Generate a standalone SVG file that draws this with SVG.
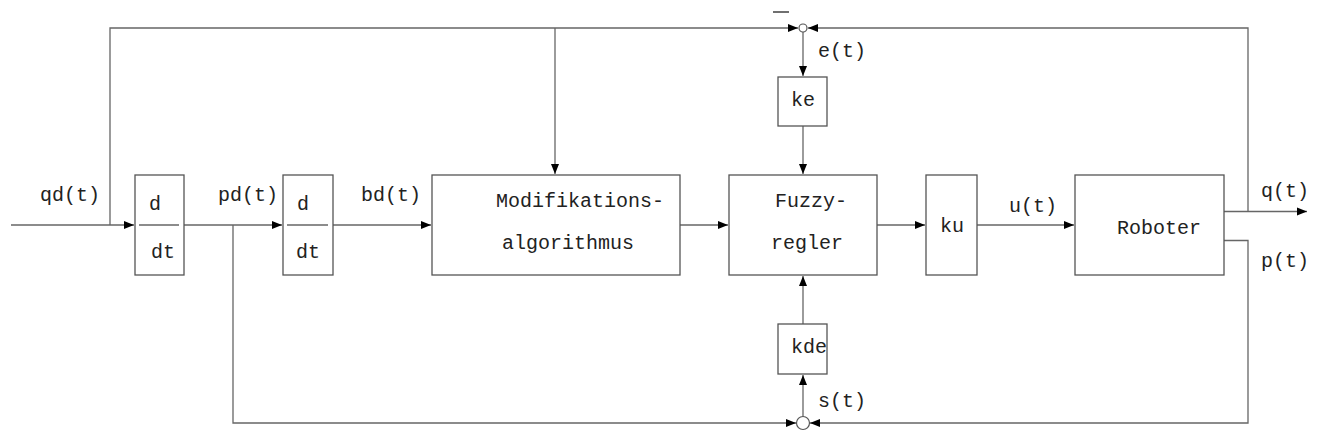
<svg xmlns="http://www.w3.org/2000/svg" width="1319" height="441" viewBox="0 0 1319 441">
<style>
.box{fill:#fff;stroke:#555;stroke-width:1.3}
.ln{fill:none;stroke:#666;stroke-width:1.3}
.t{font-family:"Liberation Mono","Courier New",monospace;font-size:20px;fill:#222}
.jn{fill:#fff;stroke:#555;stroke-width:1.2}
</style>
<defs>
<marker id="ah" markerWidth="10" markerHeight="10" refX="10" refY="5" orient="auto" markerUnits="userSpaceOnUse">
<path d="M0,1 L10,5 L0,9 Z" fill="#000"/>
</marker>
</defs>
<rect width="1319" height="441" fill="#fff"/>
<g id="connectors">
<path class="ln" d="M11,225 H134" marker-end="url(#ah)"/>
<path class="ln" d="M110,225 V28 H798" marker-end="url(#ah)"/>
<path class="ln" d="M555,28 V174" marker-end="url(#ah)"/>
<path class="ln" d="M184,225 H282" marker-end="url(#ah)"/>
<path class="ln" d="M233,225 V423 H796" marker-end="url(#ah)"/>
<path class="ln" d="M333,225 H431" marker-end="url(#ah)"/>
<path class="ln" d="M680,225 H728" marker-end="url(#ah)"/>
<path class="ln" d="M877,225 H925" marker-end="url(#ah)"/>
<path class="ln" d="M977,225 H1074" marker-end="url(#ah)"/>
<path class="ln" d="M1224,211.5 H1307" marker-end="url(#ah)"/>
<path class="ln" d="M1248,211.5 V28 H808" marker-end="url(#ah)"/>
<path class="ln" d="M1224,240.5 H1248 V423 H810" marker-end="url(#ah)"/>
<path class="ln" d="M803,32 V76" marker-end="url(#ah)"/>
<path class="ln" d="M803,126 V174" marker-end="url(#ah)"/>
<path class="ln" d="M803,416.5 V375" marker-end="url(#ah)"/>
<path class="ln" d="M803,324 V276" marker-end="url(#ah)"/>
<path d="M773,12 H789" stroke="#222" stroke-width="1.3"/>
<text class="t" x="40" y="201">qd(t)</text>
<text class="t" x="218" y="201">pd(t)</text>
<text class="t" x="361" y="201">bd(t)</text>
<text class="t" x="818" y="57">e(t)</text>
<text class="t" x="818" y="407">s(t)</text>
<text class="t" x="1009" y="212">u(t)</text>
<text class="t" x="1261" y="197">q(t)</text>
<text class="t" x="1261" y="267">p(t)</text>
</g>
<g id="junction-top"><circle class="jn" cx="803" cy="28" r="4"/></g>
<g id="junction-bottom"><circle class="jn" cx="803" cy="423" r="6.5"/></g>
<g id="diff1">
<rect class="box" x="135" y="175" width="49" height="100"/>
<path class="ln" d="M139,225 H179"/>
<text class="t" x="149" y="210">d</text>
<text class="t" x="151" y="258">dt</text>
</g>
<g id="diff2">
<rect class="box" x="283" y="175" width="50" height="100"/>
<path class="ln" d="M287,225 H328"/>
<text class="t" x="297" y="210">d</text>
<text class="t" x="296" y="258">dt</text>
</g>
<g id="modifikation">
<rect class="box" x="432" y="175" width="248" height="100"/>
<text class="t" x="496" y="207">Modifikations-</text>
<text class="t" x="502" y="249">algorithmus</text>
</g>
<g id="fuzzy">
<rect class="box" x="729" y="175" width="148" height="100"/>
<text class="t" x="775" y="207">Fuzzy-</text>
<text class="t" x="771" y="249">regler</text>
</g>
<g id="ke">
<rect class="box" x="778" y="77" width="49" height="49"/>
<text class="t" x="791" y="106">ke</text>
</g>
<g id="kde">
<rect class="box" x="778" y="324" width="49" height="50"/>
<text class="t" x="791" y="353">kde</text>
</g>
<g id="ku">
<rect class="box" x="926" y="175" width="51" height="100"/>
<text class="t" x="940" y="232">ku</text>
</g>
<g id="roboter">
<rect class="box" x="1075" y="175" width="149" height="100"/>
<text class="t" x="1117" y="234">Roboter</text>
</g>
</svg>
